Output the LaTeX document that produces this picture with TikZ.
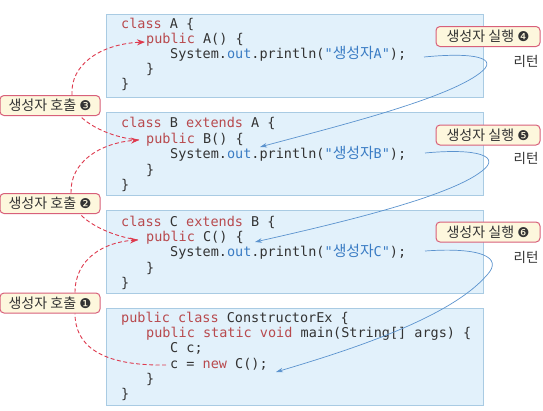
\documentclass[tikz,border=0pt]{standalone}
\usepackage{fontspec}
\setmainfont{Noto Sans CJK KR}
\setmonofont{DejaVu Sans Mono}
\newfontfamily\krf{Noto Sans CJK KR}
\newfontfamily\krc[Scale=1.1]{Noto Sans CJK KR}
\newfontfamily\dvs{DejaVu Sans}
\usetikzlibrary{arrows.meta}
\definecolor{boxfill}{HTML}{E2F1FB}
\definecolor{boxline}{HTML}{A9CBE3}
\definecolor{kwcol}{HTML}{B84A4E}
\definecolor{blcol}{HTML}{3A7CC4}
\definecolor{txtcol}{HTML}{333333}
\definecolor{lblline}{HTML}{D8607A}
\definecolor{lblfill}{HTML}{FDF7DD}
\definecolor{dashred}{HTML}{DE3A4E}
\definecolor{arrowblue}{HTML}{5B93CE}
\newcommand\KW[1]{\textcolor{kwcol}{#1}}
\newcommand\BL[1]{\textcolor{blcol}{#1}}
\tikzset{
  codebox/.style={draw=boxline, fill=boxfill, line width=0.8pt, minimum width=377pt, anchor=north west, inner sep=0pt},
  code/.style={anchor=base west, inner sep=0pt, font=\fontsize{13.5}{15}\selectfont\ttfamily, text=txtcol},
  lbl/.style={draw=lblline, fill=lblfill, rounded corners=4pt, line width=1pt, font=\fontsize{14}{15}\selectfont\krf, text=txtcol, minimum height=20pt, inner ysep=0pt, inner xsep=2pt},
  ret/.style={font=\fontsize{13.5}{15}\selectfont\krf, text=txtcol, inner sep=0pt},
  call/.style={draw=dashred, line width=0.9pt, dash pattern=on 4pt off 2.5pt},
  callarrow/.style={call, -{Stealth[length=8pt,width=6pt]}},
  backarrow/.style={draw=arrowblue, line width=0.7pt, -{Stealth[length=7pt,width=4.5pt]}}
}
\begin{document}
\begin{tikzpicture}[x=1pt,y=-1pt]
\fill[white] (0,0) rectangle (543,410);
\useasboundingbox (0,0) rectangle (543,410);
% boxes
\node[codebox, minimum height=83pt] (boxA) at (106,14) {};
\node[codebox, minimum height=83pt] (boxB) at (106,112) {};
\node[codebox, minimum height=83pt] (boxC) at (106,210) {};
\node[codebox, minimum height=97pt] (boxM) at (106,308) {};
% class A
\node[code] (a1) at (121,28.5) {\KW{class} A \{};
\node[code] (a2) at (146,43.5) {\KW{public} A() \{};
\node[code] (a3) at (170,58.5) {System.\BL{out}.println(\BL{"{\krc 생성자}A"});};
\node[code] (a4) at (146,73.5) {\}};
\node[code] (a5) at (121,88.5) {\}};
% class B
\node[code] (b1) at (121,127.5) {\KW{class} B \KW{extends} A \{};
\node[code] (b2) at (146,143) {\KW{public} B() \{};
\node[code] (b3) at (170,158.5) {System.\BL{out}.println(\BL{"{\krc 생성자}B"});};
\node[code] (b4) at (146,174) {\}};
\node[code] (b5) at (121,189) {\}};
% class C
\node[code] (c1) at (121,226.5) {\KW{class} C \KW{extends} B \{};
\node[code] (c2) at (146,241.5) {\KW{public} C() \{};
\node[code] (c3) at (170,256.5) {System.\BL{out}.println(\BL{"{\krc 생성자}C"});};
\node[code] (c4) at (146,272) {\}};
\node[code] (c5) at (121,287.5) {\}};
% main
\node[code] (m1) at (121,322.5) {\KW{public class} ConstructorEx \{};
\node[code] (m2) at (146,337.5) {\KW{public static void} main(String[] args) \{};
\node[code] (m3) at (170,352.5) {C c;};
\node[code] (m4) at (170,368) {c = \KW{new} C();};
\node[code] (m5) at (146,383) {\}};
\node[code] (m6) at (121,398) {\}};
% labels
\node[lbl, minimum width=100pt] (call3) at (50,105.5) {생성자 호출 {\dvs\fontsize{13.5}{15}\selectfont ❸}};
\node[lbl, minimum width=100pt] (call2) at (50,203.5) {생성자 호출 {\dvs\fontsize{13.5}{15}\selectfont ❷}};
\node[lbl, minimum width=100pt] (call1) at (50,303) {생성자 호출 {\dvs\fontsize{13.5}{15}\selectfont ❶}};
\node[lbl, minimum width=104pt] (run4) at (488,36.5) {생성자 실행 {\dvs\fontsize{13.5}{15}\selectfont ❹}};
\node[lbl, minimum width=104pt] (run5) at (488,135) {생성자 실행 {\dvs\fontsize{13.5}{15}\selectfont ❺}};
\node[lbl, minimum width=104pt] (run6) at (488,232) {생성자 실행 {\dvs\fontsize{13.5}{15}\selectfont ❻}};
\node[ret] (ret4) at (526,61) {리턴};
\node[ret] (ret5) at (526,158) {리턴};
\node[ret] (ret6) at (526,257) {리턴};
% coordinates
\coordinate (pA) at (145,42);
\coordinate (pB) at (139,140);
\coordinate (pC) at (138,240);
\coordinate (pM) at (166,365);
\coordinate (sA) at (424,57);
\coordinate (sB) at (425,153);
\coordinate (sC) at (425,251);
\coordinate (eB) at (260,147);
\coordinate (eC) at (255,242);
\coordinate (eM) at (276,372);
% red dashed calls
\draw[call] (pB) .. controls (115,138) and (92,128) .. ([xshift=30pt]call3.south);
\draw[callarrow] ([xshift=22pt]call3.north) .. controls (70,65) and (100,44) .. (pA);
\draw[call] (pC) .. controls (112,236) and (90,225) .. ([xshift=30pt]call2.south);
\draw[callarrow] ([xshift=21pt]call2.north) .. controls (70,162) and (100,143) .. (pB);
\draw[call] (pM) .. controls (100,366) and (75,345) .. ([xshift=25pt]call1.south);
\draw[callarrow] ([xshift=25pt]call1.north) .. controls (75,258) and (105,242) .. (pC);
% blue returns
\draw[backarrow] (sA) .. controls (475,52) and (500,58) .. (480,73) .. controls (445,100) and (330,128) .. (eB);
\draw[backarrow] (sB) .. controls (477,148) and (502,156) .. (482,171) .. controls (448,198) and (330,225) .. (eC);
\draw[backarrow] (sC) .. controls (480,247) and (504,257) .. (487,275) .. controls (450,318) and (350,350) .. (eM);
\end{tikzpicture}
\end{document}
